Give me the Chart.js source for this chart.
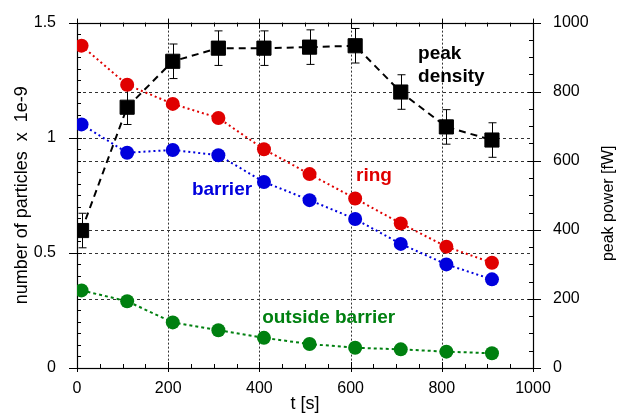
<!DOCTYPE html>
<html>
<head>
<meta charset="utf-8">
<script src="https://cdn.jsdelivr.net/npm/chart.js@4"></script>
<style>
  html, body { margin: 0; padding: 0; background: #fff; }
  #wrap { width: 618px; height: 415px; }
</style>
</head>
<body>
<div id="wrap"><canvas id="particleChart"></canvas></div>
<script>
// time points [s]
const times = [10, 110, 210, 310, 410, 510, 610, 710, 810, 910];

// number of particles x 1e-9 (left axis)
const ringValues = [1.40, 1.23, 1.147, 1.086, 0.950, 0.842, 0.736, 0.628, 0.527, 0.457];
const barrierValues = [1.058, 0.935, 0.947, 0.924, 0.808, 0.729, 0.647, 0.539, 0.450, 0.385];
const outsideValues = [0.337, 0.290, 0.198, 0.164, 0.131, 0.104, 0.088, 0.081, 0.071, 0.064];

// peak power [fW] (right axis)
const peakValues = [398, 755, 888, 926, 926, 929, 933, 799, 698, 660];
const peakErrors = [50, 50, 50, 50, 50, 50, 50, 50, 50, 50];

// tick labels
const xTickLabels = [0, 200, 400, 600, 800, 1000];
const yTickLabels = [0, 0.5, 1, 1.5];
const y2TickLabels = [0, 200, 400, 600, 800, 1000];

// in-plot labels: text, colour, t [s], left-axis value of the baseline
const plotLabels = [
    { text: 'peak', color: '#000000', t: 748, v: 1.340 },
    { text: 'density', color: '#000000', t: 748, v: 1.241 },
    { text: 'ring', color: '#e00000', t: 612, v: 0.813 },
    { text: 'barrier', color: '#0000dd', t: 252, v: 0.752 },
    { text: 'outside barrier', color: '#008010', t: 406, v: 0.196 }
];

const FONT = '"Liberation Sans", Arial, Helvetica, sans-serif';

function pts(values) {
    return times.map((t, i) => ({ x: t, y: values[i] }));
}

function near(v, list) {
    return list.some(l => Math.abs(l - v) < 1e-6);
}

// grid lines, tick marks, frame and error bars
const framePlugin = {
    id: 'frame',
    beforeDatasetsDraw(chart) {
        const ctx = chart.ctx;
        const a = chart.chartArea;
        const x = chart.scales.x, y = chart.scales.y, y2 = chart.scales.y2;
        ctx.save();

        // dotted grid
        ctx.strokeStyle = '#333';
        ctx.lineWidth = 1;
        ctx.setLineDash([2, 2]);
        [200, 400, 600, 800].forEach(v => {
            const px = Math.round(x.getPixelForValue(v)) + 0.5;
            ctx.beginPath(); ctx.moveTo(px, a.top); ctx.lineTo(px, a.bottom); ctx.stroke();
        });
        ctx.setLineDash([3, 3]);
        [0.5, 1].forEach(v => {
            const py = Math.round(y.getPixelForValue(v)) + 0.5;
            ctx.beginPath(); ctx.moveTo(a.left, py); ctx.lineTo(a.right, py); ctx.stroke();
        });
        [200, 400, 600, 800].forEach(v => {
            const py = Math.round(y2.getPixelForValue(v)) + 0.5;
            ctx.beginPath(); ctx.moveTo(a.left, py); ctx.lineTo(a.right, py); ctx.stroke();
        });
        ctx.setLineDash([]);

        // frame
        ctx.strokeStyle = '#000';
        ctx.lineWidth = 1.2;
        ctx.strokeRect(Math.round(a.left) + 0.5, Math.round(a.top) + 0.5,
            Math.round(a.right - a.left), Math.round(a.bottom - a.top));

        // tick marks
        ctx.lineWidth = 1;
        ctx.beginPath();
        x.ticks.forEach(tk => {
            const px = Math.round(x.getPixelForValue(tk.value)) + 0.5;
            const major = near(tk.value, xTickLabels);
            const out = major ? 4 : 0, inn = major ? 6 : 4;
            ctx.moveTo(px, a.bottom + out); ctx.lineTo(px, a.bottom - inn);
            ctx.moveTo(px, a.top - out); ctx.lineTo(px, a.top + inn);
        });
        y.ticks.forEach(tk => {
            const py = Math.round(y.getPixelForValue(tk.value)) + 0.5;
            const major = near(tk.value, yTickLabels);
            const out = major ? 8 : 0, inn = major ? 5 : 4;
            ctx.moveTo(a.left - out, py); ctx.lineTo(a.left + inn, py);
        });
        y2.ticks.forEach(tk => {
            const py = Math.round(y2.getPixelForValue(tk.value)) + 0.5;
            const major = near(tk.value, y2TickLabels);
            const out = major ? 8 : 0, inn = major ? 5 : 4;
            ctx.moveTo(a.right + out, py); ctx.lineTo(a.right - inn, py);
        });
        ctx.stroke();

        // error bars of the peak density
        ctx.beginPath();
        times.forEach((t, i) => {
            const px = Math.round(x.getPixelForValue(t)) + 0.5;
            const top = y2.getPixelForValue(peakValues[i] + peakErrors[i]);
            const bot = y2.getPixelForValue(peakValues[i] - peakErrors[i]);
            ctx.moveTo(px, top); ctx.lineTo(px, bot);
            ctx.moveTo(px - 4, top); ctx.lineTo(px + 4, top);
            ctx.moveTo(px - 4, bot); ctx.lineTo(px + 4, bot);
        });
        ctx.stroke();
        ctx.restore();
    },
    afterDatasetsDraw(chart) {
        const ctx = chart.ctx;
        const x = chart.scales.x, y = chart.scales.y, y2 = chart.scales.y2;
        ctx.save();
        ctx.font = 'bold 19px ' + FONT;
        ctx.textAlign = 'left';
        ctx.textBaseline = 'alphabetic';
        plotLabels.forEach(l => {
            ctx.fillStyle = l.color;
            ctx.fillText(l.text, x.getPixelForValue(l.t), y.getPixelForValue(l.v));
        });

        // right axis title, reading bottom to top
        ctx.font = '16px ' + FONT;
        ctx.fillStyle = '#000';
        ctx.textAlign = 'center';
        ctx.textBaseline = 'middle';
        ctx.translate(609, (y2.top + y2.bottom) / 2 + 8);
        ctx.rotate(-Math.PI / 2);
        ctx.fillText('peak power [fW]', 0, 0);
        ctx.restore();
    }
};

const chartData = {
    datasets: [
    {
        label: 'outside barrier',
        data: pts(outsideValues),
        yAxisID: 'y',
        borderColor: '#008010',
        backgroundColor: '#008010',
        borderWidth: 2,
        borderDash: [3, 3],
        pointRadius: 7,
        pointBorderWidth: 0
    },
    {
        label: 'barrier',
        data: pts(barrierValues),
        yAxisID: 'y',
        borderColor: '#0000dd',
        backgroundColor: '#0000dd',
        borderWidth: 2,
        borderDash: [2, 3],
        pointRadius: 7,
        pointBorderWidth: 0
    },
    {
        label: 'ring',
        data: pts(ringValues),
        yAxisID: 'y',
        borderColor: '#e00000',
        backgroundColor: '#e00000',
        borderWidth: 2,
        borderDash: [2, 3],
        pointRadius: 7,
        pointBorderWidth: 0
    },
    {
        label: 'peak density',
        data: pts(peakValues),
        yAxisID: 'y2',
        borderColor: '#000',
        backgroundColor: '#000',
        borderWidth: 2,
        borderDash: [7, 5],
        pointStyle: 'rect',
        pointRadius: 10,
        pointBorderWidth: 1
    }
    ]
};

const chartConfig = {
    type: 'line',
    data: chartData,
    options: {
    responsive: true,
    maintainAspectRatio: false,
    animation: false,
    layout: { padding: { top: 21, left: 0, right: 0, bottom: 0 } },
    plugins: {
        legend: { display: false },
        tooltip: { enabled: false }
    },
    scales: {
        x: {
        type: 'linear',
        min: 0,
        max: 1000,
        grid: { display: false },
        border: { display: false },
        ticks: {
            stepSize: 50,
            autoSkip: false,
            maxRotation: 0,
            padding: 3,
            color: '#000',
            font: { family: FONT, size: 16 },
            callback: v => near(v, xTickLabels) ? String(v) : ''
        },
        title: {
            display: true,
            text: 't [s]',
            color: '#000',
            font: { family: FONT, size: 18 },
            padding: { top: 0, bottom: 0 }
        },
        afterFit: s => { s.height = 47; }
        },
        y: {
        position: 'left',
        min: 0,
        max: 1.5,
        grid: { display: false },
        border: { display: false },
        ticks: {
            stepSize: 0.05,
            autoSkip: false,
            padding: 13,
            color: '#000',
            font: { family: FONT, size: 16 },
            callback: v => near(v, yTickLabels) ? String(+v.toFixed(1)) : ''
        },
        title: {
            display: true,
            text: 'number of particles  x  1e-9',
            color: '#000',
            font: { family: FONT, size: 18 },
            padding: { top: 11, bottom: 0 }
        },
        afterFit: s => { s.width = 77; }
        },
        y2: {
        position: 'right',
        min: 0,
        max: 1000,
        grid: { display: false },
        border: { display: false },
        ticks: {
            stepSize: 50,
            autoSkip: false,
            padding: 12,
            color: '#000',
            font: { family: FONT, size: 16 },
            callback: v => near(v, y2TickLabels) ? String(v) : ''
        },
        afterFit: s => { s.width = 85; }
        }
    }
    },
    plugins: [framePlugin]
};

new Chart(
    document.getElementById('particleChart').getContext('2d'),
    chartConfig
);
</script>
</body>
</html>
